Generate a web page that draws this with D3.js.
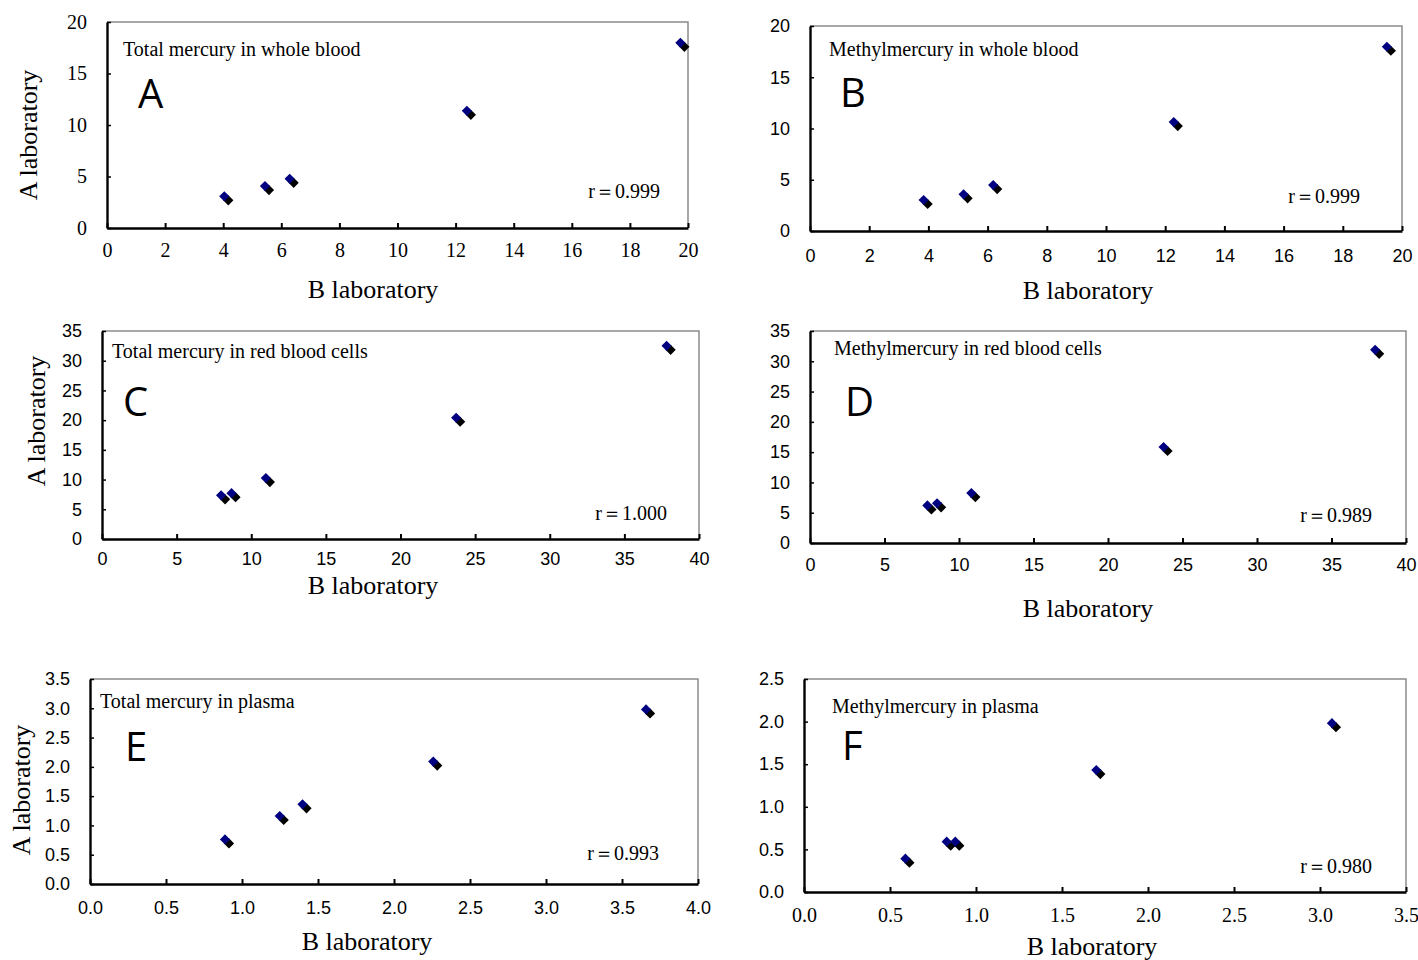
<!DOCTYPE html>
<html>
<head>
<meta charset="utf-8">
<script src="https://cdn.jsdelivr.net/npm/d3@7"></script>
<style>
  body { margin: 0; background: #fff; }
  svg { display: block; }
</style>
</head>
<body>
<div id="chart"></div>
<script>
// values
const panelIds = ["A", "B", "C", "D", "E", "F"];
const panelTitles = [
  "Total mercury in whole blood",
  "Methylmercury in whole blood",
  "Total mercury in red blood cells",
  "Methylmercury in red blood cells",
  "Total mercury in plasma",
  "Methylmercury in plasma"
];
const rLabels = ["r\uFF1D0.999", "r\uFF1D0.999", "r\uFF1D1.000", "r\uFF1D0.989", "r\uFF1D0.993", "r\uFF1D0.980"];

const xMax = [20, 20, 40, 40, 4.0, 3.5];
const xStep = [2, 2, 5, 5, 0.5, 0.5];
const yMax = [20, 20, 35, 35, 3.5, 2.5];
const yStep = [5, 5, 5, 5, 0.5, 0.5];
const tickFormats = ["d", "d", "d", "d", ".1f", ".1f"];

// B laboratory (x) / A laboratory (y)
const bLabA = [4.1, 5.5, 6.35, 12.45, 19.8];
const aLabA = [2.9, 3.9, 4.6, 11.2, 17.8];
const bLabB = [3.9, 5.25, 6.25, 12.35, 19.55];
const aLabB = [2.85, 3.4, 4.3, 10.45, 17.8];
const bLabC = [8.1, 8.8, 11.1, 23.85, 37.95];
const aLabC = [7.05, 7.4, 9.95, 20.1, 32.2];
const bLabD = [8.0, 8.65, 10.95, 23.85, 38.05];
const aLabD = [5.9, 6.25, 7.95, 15.55, 31.6];
const bLabE = [0.9, 1.26, 1.41, 2.27, 3.67];
const aLabE = [0.73, 1.13, 1.33, 2.06, 2.95];
const bLabF = [0.6, 0.84, 0.89, 1.71, 3.08];
const aLabF = [0.37, 0.57, 0.57, 1.41, 1.96];

const xSeries = [bLabA, bLabB, bLabC, bLabD, bLabE, bLabF];
const ySeries = [aLabA, aLabB, aLabC, aLabD, aLabE, aLabF];

const SERIF = "'Liberation Serif', 'Times New Roman', serif";
const SANS = "'Liberation Sans', Arial, sans-serif";

// where each panel sits on the page
const layout = [
  { left: 107, top: 22, right: 688, bottom: 228, xFont: SERIF, yFont: SERIF, xOff: 29, title: [123, 56], letter: [138, 108], r: [660, 198], xTitle: [373, 298], yTitle: [37, 135] },
  { left: 810, top: 26, right: 1402, bottom: 231, xFont: SANS, yFont: SANS, xOff: 31, title: [829, 56], letter: [840, 107], r: [1360, 203], xTitle: [1088, 299] },
  { left: 102, top: 331, right: 699, bottom: 539, xFont: SANS, yFont: SANS, xOff: 26, title: [112, 358], letter: [123, 416], r: [667, 520], xTitle: [373, 594], yTitle: [45, 421] },
  { left: 810, top: 331, right: 1406, bottom: 543, xFont: SANS, yFont: SANS, xOff: 28, title: [834, 355], letter: [845, 416], r: [1372, 522], xTitle: [1088, 617] },
  { left: 90, top: 679, right: 698, bottom: 884, xFont: SANS, yFont: SANS, xOff: 30, title: [100, 708], letter: [125, 761], r: [659, 860], xTitle: [367, 950], yTitle: [30, 790] },
  { left: 804, top: 679, right: 1406, bottom: 892, xFont: SERIF, yFont: SANS, xOff: 30, title: [832, 713], letter: [842, 760], r: [1372, 873], xTitle: [1092, 955] }
];

const svg = d3.select("#chart")
  .append("svg")
  .attr("width", 1418)
  .attr("height", 960);

const marker = d3.symbol().type(d3.symbolSquare).size(52);

panelIds.forEach((id, i) => {
  const L = layout[i];
  const g = svg.append("g").attr("class", "panel-" + id);

  const xScale = d3.scaleLinear()
    .domain([0, xMax[i]])
    .range([L.left, L.right]);

  const yScale = d3.scaleLinear()
    .domain([0, yMax[i]])
    .range([L.bottom, L.top]);

  const xTicks = d3.range(0, xMax[i] + xStep[i] / 2, xStep[i]);
  const yTicks = d3.range(0, yMax[i] + yStep[i] / 2, yStep[i]);

  // gray top and right border
  g.append("path")
    .attr("d", `M${L.left},${L.top}H${L.right}V${L.bottom}`)
    .attr("fill", "none")
    .attr("stroke", "#8c8c8c")
    .attr("stroke-width", 1.5);

  const xSize = L.xFont === SERIF ? 20 : 18;
  const ySize = L.yFont === SERIF ? 20 : 18;

  const xAxis = g.append("g")
    .attr("transform", `translate(0,${L.bottom})`)
    .call(d3.axisBottom(xScale)
      .tickValues(xTicks)
      .tickFormat(d3.format(tickFormats[i]))
      .tickSizeInner(-5)
      .tickSizeOuter(0));
  xAxis.attr("font-family", L.xFont).attr("font-size", xSize);
  xAxis.selectAll("text").attr("y", L.xOff).attr("dy", null).attr("fill", "#000");
  xAxis.selectAll("line").attr("stroke", "#000").attr("stroke-width", 2);

  const yAxis = g.append("g")
    .attr("transform", `translate(${L.left},0)`)
    .call(d3.axisLeft(yScale)
      .tickValues(yTicks)
      .tickFormat(d3.format(tickFormats[i]))
      .tickSizeInner(-4)
      .tickSizeOuter(0)
      .tickPadding(20));
  yAxis.attr("font-family", L.yFont).attr("font-size", ySize);
  yAxis.selectAll("text").attr("fill", "#000");
  yAxis.selectAll("line").attr("stroke", "#000").attr("stroke-width", 1.5);

  [xAxis, yAxis].forEach(a => a.select(".domain")
    .attr("stroke", "#000")
    .attr("stroke-width", 2.4));

  // inset labels
  g.append("text")
    .attr("x", L.title[0])
    .attr("y", L.title[1])
    .attr("font-family", SERIF)
    .attr("font-size", 20)
    .text(panelTitles[i]);

  g.append("text")
    .attr("x", L.letter[0])
    .attr("y", L.letter[1])
    .attr("font-family", "'Open Sans', 'Noto Sans', sans-serif")
    .attr("font-size", 40)
    .text(id);

  g.append("text")
    .attr("x", L.r[0])
    .attr("y", L.r[1])
    .attr("text-anchor", "end")
    .attr("font-family", SERIF)
    .attr("font-size", 20)
    .text(rLabels[i]);

  g.append("text")
    .attr("x", L.xTitle[0])
    .attr("y", L.xTitle[1])
    .attr("text-anchor", "middle")
    .attr("font-family", SERIF)
    .attr("font-size", 26)
    .text("B laboratory");

  if (L.yTitle) {
    g.append("text")
      .attr("transform", `translate(${L.yTitle[0]},${L.yTitle[1]}) rotate(-90)`)
      .attr("text-anchor", "middle")
      .attr("font-family", SERIF)
      .attr("font-size", 26)
      .text("A laboratory");
  }

  const pts = xSeries[i].map((v, k) => ({ x: v, y: ySeries[i][k] }));

  // black shadow then navy diamond on top
  g.selectAll(".shadow")
    .data(pts)
    .enter().append("path")
    .attr("class", "shadow")
    .attr("d", marker)
    .attr("transform", d => `translate(${xScale(d.x) + 2.2},${yScale(d.y) + 2.2}) rotate(45)`)
    .attr("fill", "#000");

  g.selectAll(".dot")
    .data(pts)
    .enter().append("path")
    .attr("class", "dot")
    .attr("d", marker)
    .attr("transform", d => `translate(${xScale(d.x) - 1.8},${yScale(d.y) - 1.8}) rotate(45)`)
    .attr("fill", "#000080");
});
</script>
</body>
</html>
